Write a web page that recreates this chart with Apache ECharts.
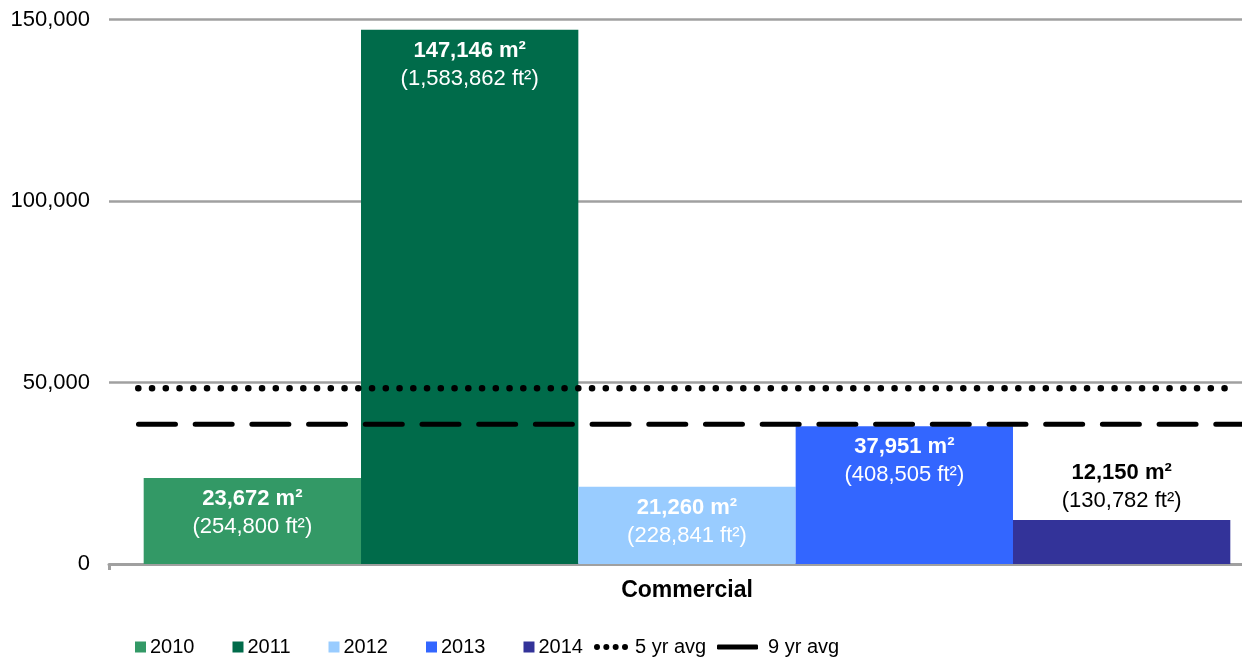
<!DOCTYPE html>
<html>
<head>
<meta charset="utf-8">
<script src="https://cdn.jsdelivr.net/npm/echarts@6/dist/echarts.min.js"></script>
<style>html,body{margin:0;padding:0;background:#fff}#c{width:1242px;height:660px}</style>
</head>
<body>
<div id="c"></div>
<script>
const categories = ['Commercial'];
const years = ['2010', '2011', '2012', '2013', '2014'];
const valuesM2 = [23672, 147146, 21260, 37951, 12150];
const valuesFt2 = [254800, 1583862, 228841, 408505, 130782];
const avgNames = ['5 yr avg', '9 yr avg'];
const avgValues = [48436, 38500];
const yTicks = [0, 50000, 100000, 150000];

const barColors = ['#339966', '#006b4a', '#99ccff', '#3366ff', '#333399'];
const FONT = '"Liberation Sans", Arial, sans-serif';
const fmt = n => n.toLocaleString('en-US');

const barSeries = years.map((y, i) => ({
  name: y,
  type: 'bar',
  xAxisIndex: 0,
  barGap: '0%',
  barCategoryGap: '6%',
  itemStyle: { color: barColors[i] },
  label: {
    show: true,
    position: i === 4 ? 'top' : 'insideTop',
    distance: i === 4 ? 5 : 7,
    color: i === 4 ? '#000' : '#fff',
    fontFamily: FONT,
    formatter: () => '{b|' + fmt(valuesM2[i]) + ' m²}\n{n|(' + fmt(valuesFt2[i]) + ' ft²)}',
    rich: {
      b: { fontSize: 22, fontWeight: 'bold', lineHeight: 28, fontFamily: FONT, color: i === 4 ? '#000' : '#fff' },
      n: { fontSize: 22, lineHeight: 28, fontFamily: FONT, color: i === 4 ? '#000' : '#fff' }
    }
  },
  data: [valuesM2[i]]
}));

const avgSpans = [[0.0253, 0.9655], [0.0255, 1.0]];
const avgStyles = [
  { color: '#000', width: 6.5, type: [0.1, 13.65], cap: 'round' },
  { color: '#000', width: 5, type: [37, 19.7], cap: 'round' }
];
const lineSeries = avgNames.map((n, i) => ({
  name: n,
  type: 'line',
  xAxisIndex: 1,
  symbol: 'none',
  silent: true,
  z: 5,
  itemStyle: { color: '#000' },
  lineStyle: avgStyles[i],
  data: [[avgSpans[i][0], avgValues[i]], [avgSpans[i][1], avgValues[i]]]
}));

const dotsIcon = 'path://M0,3a3,3 0 1,0 6,0a3,3 0 1,0 -6,0zM9.33,3a3,3 0 1,0 6,0a3,3 0 1,0 -6,0zM18.67,3a3,3 0 1,0 6,0a3,3 0 1,0 -6,0zM28,3a3,3 0 1,0 6,0a3,3 0 1,0 -6,0z';
const legendText = { fontSize: 20, color: '#000', fontFamily: FONT };

const chart = echarts.init(document.getElementById('c'), null, { renderer: 'canvas' });
chart.setOption({
  animation: false,
  backgroundColor: '#fff',
  textStyle: { fontFamily: FONT },
  grid: { left: 109, width: 1156, top: 19.5, bottom: 96, containLabel: false, outerBoundsMode: 'none' },
  xAxis: [
    {
      type: 'category',
      data: categories,
      axisLine: { lineStyle: { color: '#a0a0a0', width: 3 } },
      axisTick: { show: true, length: 6, lineStyle: { color: '#a0a0a0', width: 3 } },
      axisLabel: { color: '#000', fontSize: 23, fontWeight: 'bold', fontFamily: FONT, margin: 15 }
    },
    { type: 'value', min: 0, max: 1, show: false }
  ],
  yAxis: {
    type: 'value',
    min: 0,
    max: 150000,
    interval: 50000,
    axisLine: { show: false },
    axisTick: { show: false },
    splitLine: { lineStyle: { color: '#a0a0a0', width: 2.5 } },
    axisLabel: {
      color: '#000', fontSize: 22, fontFamily: FONT, margin: 19,
      formatter: v => yTicks.includes(v) ? fmt(v) : ''
    }
  },
  legend: [
    {
      data: years,
      left: 130,
      top: 632,
      itemWidth: 11,
      itemHeight: 11,
      itemGap: 38,
      icon: 'rect',
      textStyle: Object.assign({ padding: [0, 0, 0, -1] }, legendText)
    },
    {
      data: [{ name: avgNames[0], icon: dotsIcon, itemStyle: { color: '#000' } }],
      left: 589,
      top: 632,
      itemWidth: 34,
      itemHeight: 6,
      textStyle: Object.assign({ padding: [0, 0, 0, 2] }, legendText)
    },
    {
      data: [{ name: avgNames[1], icon: 'roundRect', itemStyle: { color: '#000' } }],
      left: 712,
      top: 632,
      itemWidth: 41,
      itemHeight: 5,
      textStyle: Object.assign({ padding: [0, 0, 0, 5] }, legendText)
    }
  ],
  series: barSeries.concat(lineSeries)
});
</script>
</body>
</html>
